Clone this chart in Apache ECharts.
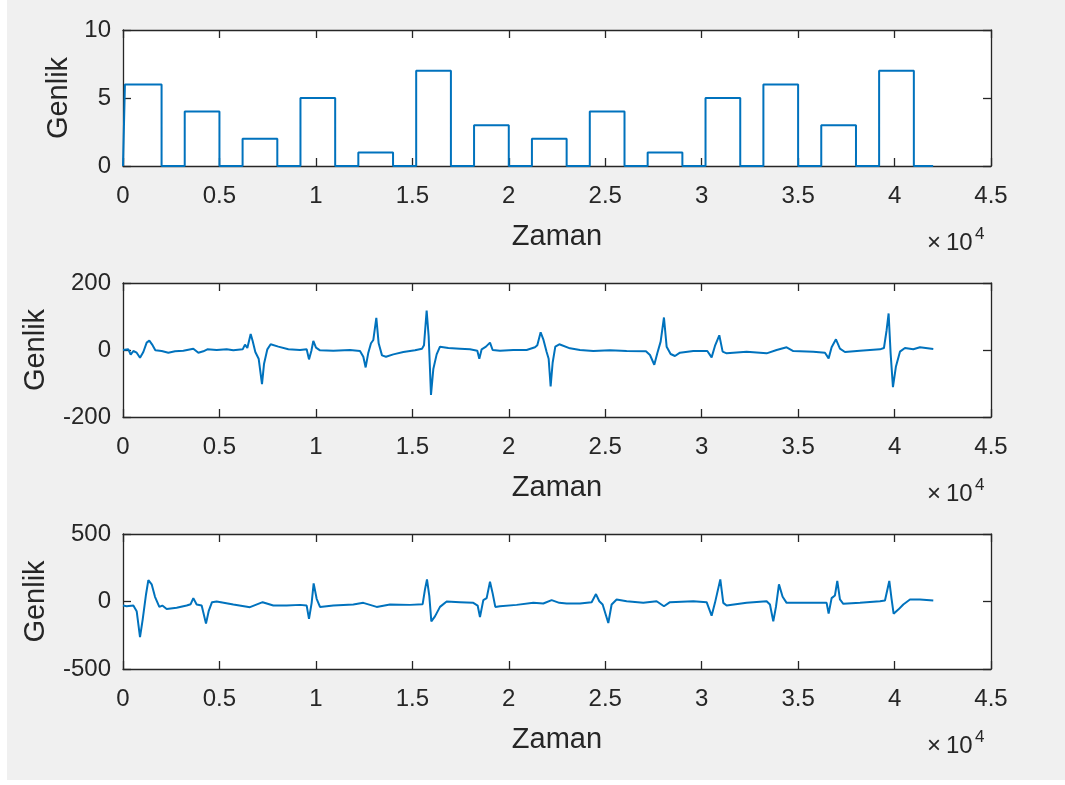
<!DOCTYPE html>
<html>
<head>
<meta charset="utf-8">
<title>Genlik / Zaman</title>
<script src="https://cdn.jsdelivr.net/npm/echarts@6/dist/echarts.min.js"></script>
<style>
  html, body { margin: 0; padding: 0; background: #fff; }
  #main { position: absolute; left: 7px; top: 0; width: 1058px; height: 780px; }
</style>
</head>
<body>
<div id="main"></div>
<script>
// ust panel: kare darbeler
const pulseStart = [100, 3200, 6200, 9200, 12200, 15200, 18200, 21200, 24200, 27200, 30200, 33200, 36200, 39200];
const pulseEnd = [2000, 5000, 8000, 11000, 14000, 17000, 20000, 23000, 26000, 29000, 32000, 35000, 38000, 41000];
const pulseAmp = [6, 4, 2, 5, 1, 7, 3, 2, 4, 1, 5, 6, 3, 7];
const signalEnd = 42000;

// orta panel
const time2 = [0, 277, 398, 536, 709, 882, 1054, 1227, 1365, 1504, 1677, 2005, 2350, 2696, 3128, 3646, 3906, 4165, 4372, 4856,
  5374, 5720, 6204, 6325, 6446, 6619, 6722, 6860, 7033, 7206, 7310, 7483, 7655, 8053, 8571, 9176, 9522, 9643, 9764, 9867,
  10005, 10213, 10904, 11768, 12286, 12459, 12580, 12718, 12857, 12978, 13133, 13254, 13427, 13634, 14014, 14533, 15138, 15500, 15604, 15742,
  15846, 15915, 15967, 16088, 16261, 16434, 16866, 17470, 17989, 18369, 18473, 18594, 18818, 19026, 19164, 19544, 20235, 20926, 21358, 21479,
  21652, 21790, 21963, 22067, 22170, 22274, 22412, 22620, 23172, 23691, 24382, 25246, 26110, 27112, 27320, 27544, 27700, 27873, 28045, 28184,
  28391, 28616, 28875, 29566, 30292, 30516, 30689, 30914, 31087, 31294, 32331, 33368, 33886, 34404, 34750, 35787, 36392, 36582, 36737, 36962,
  37169, 37428, 38206, 39243, 39450, 39588, 39692, 39796, 39917, 40072, 40280, 40539, 40971, 41317, 42008];
const amp2 = [0, 2, -14, -3, -8, -23, -6, 22, 28, 17, -1, -3, -8, -4, -2, 4, -8, -4, 2, 0,
  2, -1, 2, 16, 6, 48, 27, -6, -26, -102, -42, 2, 17, 10, 2, 0, 2, -28, -3, 27,
  7, -1, -2, 0, -3, -20, -52, -8, 20, 30, 96, 20, -16, -20, -13, -6, -1, 4, 14, 118,
  41, -57, -134, -57, -13, 10, 6, 4, 2, -2, -26, 2, 10, 22, 0, -2, 0, 0, 8, 14,
  53, 32, -6, -26, -109, -38, 10, 17, 5, 0, -3, -1, -3, -4, -15, -44, -10, 25, 97, 10,
  -12, -18, -8, -3, -3, -22, 12, 44, -5, -10, -5, -10, 0, 8, -3, -5, -8, -25, 8, 32,
  4, -6, -2, 2, 6, 59, 109, -10, -111, -49, -5, 6, 2, 8, 3];

// alt panel
const time3 = [0, 190, 536, 709, 882, 1020, 1193, 1314, 1486, 1659, 1884, 2039, 2264, 2782, 3301, 3508, 3646, 3819, 4078, 4303,
  4441, 4614, 4856, 5720, 6584, 7240, 7793, 8484, 9176, 9522, 9643, 9781, 9884, 10040, 10213, 10904, 11941, 12459, 13150, 13842,
  14878, 15535, 15656, 15760, 15881, 15985, 16174, 16434, 16779, 17470, 18162, 18386, 18507, 18680, 18853, 19026, 19164, 19302, 19544, 20408,
  21272, 21790, 22222, 22620, 22999, 23691, 24296, 24520, 24693, 24866, 25160, 25332, 25592, 26110, 26974, 27665, 28045, 28356, 29566, 30257,
  30516, 30689, 30966, 31121, 31294, 32331, 33368, 33540, 33713, 33851, 34007, 34197, 34404, 35095, 36478, 36582, 36737, 36910, 37031, 37169,
  37342, 38206, 39243, 39503, 39727, 39848, 39951, 40194, 40453, 40799, 41317, 42008];
const amp3 = [-30, -35, -30, -72, -264, -134, 52, 159, 127, 35, -40, -30, -55, -47, -30, -20, 25, -22, -30, -164,
  -72, -5, 0, -22, -42, -5, -30, -30, -25, -30, -129, -10, 134, 20, -40, -30, -22, -10, -40, -22,
  -25, -20, 90, 164, 40, -147, -110, -40, 0, -5, -10, -30, -115, 10, 25, 147, 60, -40, -35, -25,
  -10, -15, 10, -10, -15, -15, -5, 55, 2, -22, -159, -22, 15, 2, -10, 2, -35, -5, 2, -5,
  -105, -10, 164, -10, -30, -10, 2, -22, -147, -40, 127, 35, -10, -10, -10, -90, 25, 45, 152, 15,
  -17, -10, 2, 7, 152, 15, -90, -60, -22, 15, 15, 7];

const xTicks = ['0', '0.5', '1', '1.5', '2', '2.5', '3', '3.5', '4', '4.5'];
const yRanges = [[0, 10, 5], [-200, 200, 200], [-500, 500, 500]];

const axisColor = '#262626';
const lineColor = '#0072BD';
const fontFamily = 'Liberation Sans, Arial, sans-serif';

let pulseData = [[0, 0]];
for (let i = 0; i < pulseAmp.length; i++) {
  pulseData.push([pulseStart[i], 0], [pulseStart[i], pulseAmp[i]], [pulseEnd[i], pulseAmp[i]], [pulseEnd[i], 0]);
}
pulseData.push([signalEnd, 0]);

const zip = (t, a) => t.map((v, i) => [v, a[i]]);
const seriesData = [pulseData, zip(time2, amp2), zip(time3, amp3)];

const grids = [
  { left: 116, width: 868, top: 30, height: 136 },
  { left: 116, width: 868, top: 283, height: 134 },
  { left: 116, width: 868, top: 534, height: 135 }
];
const yNameGap = [50, 73, 73];

let xAxes = [], yAxes = [], series = [], graphics = [];
grids.forEach((g, i) => {
  g.show = true;
  g.backgroundColor = '#fff';
  g.borderWidth = 0;
  const line = { show: true, onZero: false, lineStyle: { color: axisColor, width: 1.3 } };
  const tick = { show: true, inside: true, length: 8, lineStyle: { color: axisColor, width: 1.3 } };
  xAxes.push({
    gridIndex: i, type: 'value', position: 'bottom', min: 0, max: 45000, interval: 5000,
    axisLine: line, axisTick: tick, splitLine: { show: false },
    axisLabel: {
      color: axisColor, fontSize: 24, fontFamily: fontFamily, margin: 18,
      formatter: v => xTicks[Math.round(v / 5000)]
    },
    name: 'Zaman', nameLocation: 'middle', nameGap: 56,
    nameTextStyle: { color: axisColor, fontSize: 29, fontFamily: fontFamily }
  });
  xAxes.push({
    gridIndex: i, type: 'value', position: 'top', min: 0, max: 45000, interval: 5000,
    axisLine: line, axisTick: tick, splitLine: { show: false }, axisLabel: { show: false }
  });
  const r = yRanges[i];
  yAxes.push({
    gridIndex: i, type: 'value', position: 'left', min: r[0], max: r[1], interval: r[2],
    axisLine: line, axisTick: tick, splitLine: { show: false },
    axisLabel: { color: axisColor, fontSize: 24, fontFamily: fontFamily, margin: 12 },
    name: 'Genlik', nameLocation: 'middle', nameGap: yNameGap[i],
    nameTextStyle: { color: axisColor, fontSize: 29, fontFamily: fontFamily }
  });
  yAxes.push({
    gridIndex: i, type: 'value', position: 'right', min: r[0], max: r[1], interval: r[2],
    axisLine: line, axisTick: tick, splitLine: { show: false }, axisLabel: { show: false }
  });
  series.push({
    type: 'line', xAxisIndex: i * 2, yAxisIndex: i * 2, data: seriesData[i],
    showSymbol: false, symbol: 'none', animation: false,
    lineStyle: { color: lineColor, width: 2 }
  });
  // x10^4 carpani
  const base = g.top + g.height;
  graphics.push({
    type: 'text', left: 920, top: base + 65,
    style: { text: '\u00d7', fill: axisColor, font: '24px ' + fontFamily }
  });
  graphics.push({
    type: 'text', left: 939, top: base + 65,
    style: { text: '10', fill: axisColor, font: '24px ' + fontFamily }
  });
  graphics.push({
    type: 'text', left: 968, top: base + 60,
    style: { text: '4', fill: axisColor, font: '17px ' + fontFamily }
  });
});

const option = {
  backgroundColor: '#f0f0f0',
  animation: false,
  grid: grids,
  xAxis: xAxes,
  yAxis: yAxes,
  series: series,
  graphic: graphics
};

let myChart = echarts.init(document.getElementById('main'));
myChart.setOption(option);
</script>
</body>
</html>
